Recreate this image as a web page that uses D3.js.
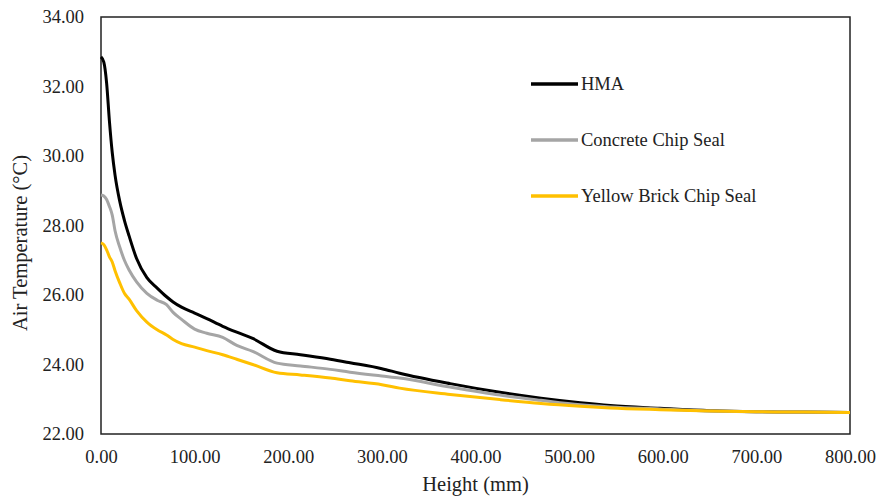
<!DOCTYPE html>
<html>
<head>
<meta charset="utf-8">
<script src="https://cdn.jsdelivr.net/npm/d3@7"></script>
<style>
  body { margin: 0; background: #fff; }
  text { font-family: "Liberation Serif", "Times New Roman", serif; fill: #222; }
</style>
</head>
<body>
<div id="chart"></div>
<script>
// heights (mm) at which air temperature was read
var heights = [0, 3, 6, 9, 12, 15, 20, 25, 30, 38, 49, 60, 70, 77, 86, 100, 113, 130, 145, 162,
    188, 213, 245, 266, 300, 319, 373, 426, 470, 512, 544, 597, 651, 700, 750, 800];

var hma = [32.85, 32.7, 32.1, 31.0, 30.1, 29.45, 28.7, 28.15, 27.7, 27.05, 26.5, 26.2, 25.95, 25.8, 25.65, 25.48, 25.32, 25.1, 24.93, 24.75,
    24.38, 24.28, 24.15, 24.05, 23.88, 23.75, 23.45, 23.2, 23.03, 22.9, 22.82, 22.74, 22.67, 22.64, 22.63, 22.62];

var concrete = [28.88, 28.85, 28.75, 28.55, 28.3, 27.85, 27.38, 27.0, 26.72, 26.38, 26.05, 25.85, 25.72, 25.5, 25.3, 25.02, 24.9, 24.78, 24.55, 24.38,
    24.04, 23.96, 23.86, 23.78, 23.67, 23.61, 23.35, 23.12, 22.97, 22.84, 22.78, 22.72, 22.66, 22.64, 22.63, 22.62];

var yellowBrick = [27.5, 27.45, 27.3, 27.1, 26.95, 26.7, 26.35, 26.05, 25.88, 25.55, 25.22, 25.0, 24.85, 24.72, 24.6, 24.5, 24.4, 24.28, 24.15, 24.0,
    23.76, 23.7, 23.61, 23.53, 23.42, 23.32, 23.14, 22.99, 22.88, 22.8, 22.75, 22.7, 22.66, 22.64, 22.63, 22.62];

var seriesNames = ["HMA", "Concrete Chip Seal", "Yellow Brick Chip Seal"];
var seriesColors = ["#000000", "#a5a5a5", "#ffc000"];
var xTicks = [0, 100, 200, 300, 400, 500, 600, 700, 800];
var yTicks = [22, 24, 26, 28, 30, 32, 34];

var margin = { top: 17, right: 29, bottom: 66, left: 101 },
    width = 879 - margin.left - margin.right,
    height = 500 - margin.top - margin.bottom;

var svg = d3.select("#chart")
    .append("svg")
    .attr("width", 879)
    .attr("height", 500)
    .append("g")
    .attr("transform", "translate(" + margin.left + "," + margin.top + ")");

var x = d3.scaleLinear().domain([0, 800]).range([0, width]);
var y = d3.scaleLinear().domain([22, 34]).range([height, 0]);

// frame
svg.append("rect")
    .attr("x", 0).attr("y", 0)
    .attr("width", width).attr("height", height)
    .style("fill", "none")
    .style("stroke", "#222")
    .style("stroke-width", 1.5);

svg.append("g")
    .attr("transform", "translate(0," + height + ")")
    .call(d3.axisBottom(x).tickValues(xTicks).tickSize(0).tickPadding(16).tickFormat(d3.format(".2f")))
    .call(function(g) { g.select(".domain").remove(); })
    .selectAll("text")
    .style("font-size", "18.5px")
    .style("font-family", "Liberation Serif");

svg.append("g")
    .call(d3.axisLeft(y).tickValues(yTicks).tickSize(0).tickPadding(17).tickFormat(d3.format(".2f")))
    .call(function(g) { g.select(".domain").remove(); })
    .selectAll("text")
    .style("font-size", "18.5px")
    .style("font-family", "Liberation Serif");

var allSeries = [hma, concrete, yellowBrick];

var line = d3.line()
    .x(function(d) { return x(d[0]); })
    .y(function(d) { return y(d[1]); })
    .curve(d3.curveMonotoneX);

allSeries.forEach(function(vals, i) {
    svg.append("path")
        .datum(heights.map(function(h, j) { return [h, vals[j]]; }))
        .attr("d", line)
        .style("fill", "none")
        .style("stroke", seriesColors[i])
        .style("stroke-width", 3)
        .style("stroke-linejoin", "round");
});

// legend
var legend = svg.append("g").attr("transform", "translate(430,0)");
seriesNames.forEach(function(name, i) {
    var ly = 67 + i * 56;
    legend.append("line")
        .attr("x1", 0).attr("x2", 47)
        .attr("y1", ly).attr("y2", ly)
        .style("stroke", seriesColors[i])
        .style("stroke-width", 3.5);
    legend.append("text")
        .attr("x", 50)
        .attr("y", ly + 6)
        .style("font-size", "18.5px")
        .text(name);
});

svg.append("text")
    .attr("x", width / 2)
    .attr("y", height + 57)
    .attr("text-anchor", "middle")
    .style("font-size", "20.5px")
    .text("Height (mm)");

svg.append("text")
    .attr("transform", "rotate(-90)")
    .attr("x", -226)
    .attr("y", -74)
    .attr("text-anchor", "middle")
    .style("font-size", "20.5px")
    .text("Air Temperature (°C)");
</script>
</body>
</html>
